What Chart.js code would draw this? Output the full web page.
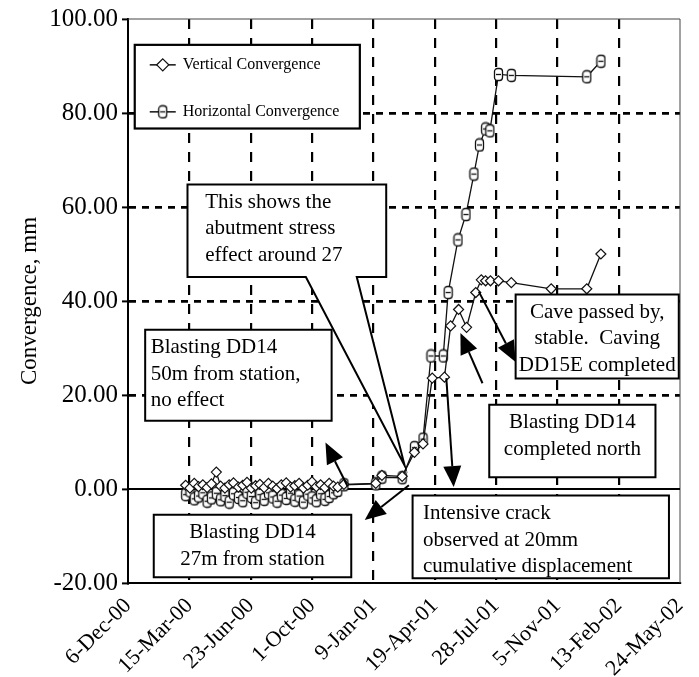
<!DOCTYPE html>
<html>
<head>
<meta charset="utf-8">
<script src="https://cdn.jsdelivr.net/npm/chart.js@4.4.0/dist/chart.umd.min.js"></script>
<style>
  html, body { margin: 0; padding: 0; background: #fff; }
</style>
</head>
<body>
<canvas id="convergence-chart" width="699" height="677"></canvas>
<script>
// axis labels, one every 100 days
const axisDates = ['6-Dec-00', '15-Mar-00', '23-Jun-00', '1-Oct-00', '9-Jan-01',
  '19-Apr-01', '28-Jul-01', '5-Nov-01', '13-Feb-02', '24-May-02'];

// reading dates, counted in days after the first axis date
const earlyDays = [94, 101, 108, 115, 122, 129, 136, 144, 151, 158, 165, 172, 180, 187, 194, 201, 208, 215,
  222, 229, 236, 243, 250, 258, 265, 272, 279, 286, 293, 300, 307, 314, 321, 328, 335, 342];

const vertDays = earlyDays.concat([352, 404, 414, 447, 467, 481, 496, 516, 526, 539, 552, 567, 576, 583,
  591, 604, 625, 690, 748, 771]);
const vertMm = [0.8, 0.2, 1.2, 0.5, 0.9, 0.3, 1.1, 3.6, 0.6, 0.2, 0.9, 1.3, 0.4, 0.8, 1.4, 0.2, 0.7, 1.0,
  0.3, 1.2, 0.6, 0.1, 0.9, 1.3, 0.4, 0.7, 1.2, 0.2, 0.8, 1.5, 0.5, 0.9, 0.3, 1.2, 0.6, 0.4,
  1.0, 1.2, 2.9, 2.7, 7.8, 9.6, 23.6, 23.8, 34.7, 38.2, 34.4, 41.8, 44.5, 44.3, 44.3, 44.3, 43.9, 42.6, 42.6, 50.0];

const horizDays = earlyDays.concat([352, 404, 414, 447, 467, 481, 494, 514, 522, 538, 551, 564, 573, 583,
  590, 604, 625, 748, 771]);
const horizMm = [-1.2, -0.4, -2.1, -1.5, -0.8, -2.6, -1.9, -0.9, -2.3, -1.4, -2.8, -1.0, -1.8, -2.5, -0.7, -1.6, -2.9, -1.2,
  -2.2, -0.8, -1.7, -2.6, -1.3, -2.0, -0.9, -2.4, -1.5, -2.8, -1.1, -1.9, -2.5, -1.0, -2.2, -1.6, -0.8, -0.3,
  0.9, 1.1, 2.5, 2.4, 8.8, 10.6, 28.3, 28.3, 41.8, 53.0, 58.4, 67.0, 73.2, 76.6, 76.2, 88.2, 88.0, 87.7, 91.0];

// text boxes (days / mm)
const notes = [
  { lines: ['This shows the', 'abutment stress', 'effect around 27'], from: 97, to: 421, top: 64.8, bottom: 45.1,
    textAt: 126, tail: [373, 290, 451, 5] },
  { lines: ['Blasting DD14', '50m from station,', 'no effect'], from: 28, to: 332, top: 33.9, bottom: 14.5, textAt: 37 },
  { lines: ['Blasting DD14', '27m from station'], from: 42, to: 364, top: -5.5, bottom: -18.8 },
  { lines: ['Intensive crack', 'observed at 20mm', 'cumulative displacement'], from: 464, to: 882, top: -1.4, bottom: -19.0,
    textAt: 481 },
  { lines: ['Blasting DD14', 'completed north'], from: 589, to: 860, top: 17.9, bottom: 2.5 },
  { lines: ['Cave passed by,', 'stable.  Caving', 'DD15E completed'], from: 632, to: 898, top: 41.4, bottom: 23.5 }
];

// arrows: start day, start mm, tip day, tip mm
const arrows = [
  [358, 0.6, 322, 9.9],
  [458, 0.8, 386, -6.6],
  [519, 23.6, 531, 0.4],
  [578, 22.5, 542, 33.2],
  [572, 42.0, 632, 27.0]
];

const serif = '"Liberation Serif", "Times New Roman", serif';
Chart.defaults.font.family = serif;
Chart.defaults.color = '#000';

// tall rounded marker for the horizontal readings
function makeBoxMarker() {
  const c = document.createElement('canvas');
  c.width = 11; c.height = 15;
  const g = c.getContext('2d');
  g.fillStyle = '#fff';
  g.strokeStyle = '#111';
  g.lineWidth = 1.3;
  g.beginPath();
  g.roundRect(1.5, 1.5, 8, 12, 3);
  g.fill();
  g.stroke();
  g.beginPath();
  g.moveTo(3, 7.5); g.lineTo(8, 7.5);
  g.stroke();
  return c;
}
const boxMarker = makeBoxMarker();

function drawArrow(ctx, x1, y1, x2, y2) {
  const ang = Math.atan2(y2 - y1, x2 - x1);
  const len = 21, half = 9;
  const bx = x2 - len * Math.cos(ang), by = y2 - len * Math.sin(ang);
  ctx.beginPath();
  ctx.moveTo(x1, y1);
  ctx.lineTo(bx, by);
  ctx.stroke();
  ctx.beginPath();
  ctx.moveTo(x2, y2);
  ctx.lineTo(bx + half * Math.sin(ang), by - half * Math.cos(ang));
  ctx.lineTo(bx - half * Math.sin(ang), by + half * Math.cos(ang));
  ctx.closePath();
  ctx.fill();
}

function drawDiamond(ctx, cx, cy, r) {
  ctx.beginPath();
  ctx.moveTo(cx, cy - r); ctx.lineTo(cx + r, cy); ctx.lineTo(cx, cy + r); ctx.lineTo(cx - r, cy);
  ctx.closePath();
  ctx.fillStyle = '#fff';
  ctx.fill();
  ctx.stroke();
}

const notesPlugin = {
  id: 'notes',
  beforeDatasetsDraw(chart) {
    const { ctx, chartArea: a, scales: { y } } = chart;
    ctx.save();
    ctx.strokeStyle = '#444';
    ctx.lineWidth = 1;
    ctx.beginPath();
    ctx.moveTo(a.left, a.top); ctx.lineTo(a.right, a.top); ctx.lineTo(a.right, a.bottom);
    ctx.stroke();
    const y0 = y.getPixelForValue(0);
    ctx.strokeStyle = '#000';
    ctx.lineWidth = 1.8;
    ctx.beginPath();
    ctx.moveTo(a.left, y0); ctx.lineTo(a.right, y0);
    ctx.stroke();
    ctx.restore();
  },
  afterDatasetsDraw(chart) {
    const { ctx, scales: { x, y } } = chart;
    ctx.save();
    ctx.lineJoin = 'miter';

    notes.forEach(n => {
      const l = x.getPixelForValue(n.from), r = x.getPixelForValue(n.to);
      const t = y.getPixelForValue(n.top), b = y.getPixelForValue(n.bottom);
      ctx.beginPath();
      ctx.moveTo(l, t); ctx.lineTo(r, t); ctx.lineTo(r, b);
      if (n.tail) {
        ctx.lineTo(x.getPixelForValue(n.tail[0]), b);
        ctx.lineTo(x.getPixelForValue(n.tail[2]), y.getPixelForValue(n.tail[3]));
        ctx.lineTo(x.getPixelForValue(n.tail[1]), b);
      }
      ctx.lineTo(l, b);
      ctx.closePath();
      ctx.fillStyle = '#fff';
      ctx.fill();
      ctx.strokeStyle = '#000';
      ctx.lineWidth = 2;
      ctx.stroke();

      ctx.fillStyle = '#000';
      ctx.font = '21px ' + serif;
      ctx.textBaseline = 'middle';
      let tx;
      if (n.textAt !== undefined) {
        ctx.textAlign = 'left';
        tx = x.getPixelForValue(n.textAt);
      } else {
        ctx.textAlign = 'center';
        tx = (l + r) / 2;
      }
      n.lines.forEach((line, i) => ctx.fillText(line, tx, t + 18 + i * 26.5));
    });

    ctx.strokeStyle = '#000';
    ctx.fillStyle = '#000';
    ctx.lineWidth = 2;
    arrows.forEach(([d1, v1, d2, v2]) => {
      drawArrow(ctx, x.getPixelForValue(d1), y.getPixelForValue(v1), x.getPixelForValue(d2), y.getPixelForValue(v2));
    });

    // legend box
    const ll = x.getPixelForValue(11), lr = x.getPixelForValue(378);
    const lt = y.getPixelForValue(94.5), lb = y.getPixelForValue(76.7);
    ctx.fillStyle = '#fff';
    ctx.fillRect(ll, lt, lr - ll, lb - lt);
    ctx.lineWidth = 2.2;
    ctx.strokeRect(ll, lt, lr - ll, lb - lt);
    ctx.font = '16px ' + serif;
    ctx.textAlign = 'left';
    ctx.textBaseline = 'middle';
    chart.data.datasets.forEach((ds, i) => {
      const ry = lt + 20 + i * 47;
      ctx.strokeStyle = '#111';
      ctx.lineWidth = 1.5;
      ctx.beginPath();
      ctx.moveTo(ll + 15, ry); ctx.lineTo(ll + 41, ry);
      ctx.stroke();
      if (i === 0) {
        ctx.lineWidth = 1.3;
        drawDiamond(ctx, ll + 28, ry, 6);
      } else {
        ctx.drawImage(boxMarker, ll + 28 - 5.5, ry - 7.5);
      }
      ctx.fillStyle = '#000';
      ctx.fillText(ds.label, ll + 48, ry);
    });
    ctx.restore();
  }
};

const ctx = document.getElementById('convergence-chart').getContext('2d');
new Chart(ctx, {
  type: 'line',
  data: {
    datasets: [
      {
        label: 'Vertical Convergence',
        data: vertDays.map((d, i) => ({ x: d, y: vertMm[i] })),
        borderColor: '#111',
        borderWidth: 1.3,
        pointStyle: 'rectRot',
        pointRadius: 5,
        pointBorderWidth: 1.2,
        pointBackgroundColor: '#fff',
        pointBorderColor: '#111',
        tension: 0
      },
      {
        label: 'Horizontal Convergence',
        data: horizDays.map((d, i) => ({ x: d, y: horizMm[i] })),
        borderColor: '#111',
        borderWidth: 1.3,
        pointStyle: boxMarker,
        pointRadius: 5,
        tension: 0
      }
    ]
  },
  options: {
    responsive: false,
    animation: false,
    layout: { padding: { left: 0, top: 17, right: 19, bottom: 0 } },
    plugins: {
      legend: { display: false },
      tooltip: { enabled: false }
    },
    scales: {
      x: {
        type: 'linear',
        min: 0,
        max: 900,
        afterFit(scale) {
          scale.height = 94;
          scale.paddingLeft = 0;
          scale.paddingRight = 0;
        },
        border: { display: true, color: '#000', width: 2, dash: [10, 9] },
        grid: {
          color: c => (c.tick && (c.tick.value === 0 || c.tick.value === 900)) ? 'rgba(0,0,0,0)' : '#000',
          lineWidth: 2.2,
          drawTicks: false
        },
        ticks: {
          stepSize: 100,
          autoSkip: false,
          minRotation: 45,
          maxRotation: 45,
          padding: 10,
          font: { size: 22 },
          callback: v => axisDates[Math.round(v / 100)]
        }
      },
      y: {
        min: -20,
        max: 100,
        afterFit(scale) { scale.width = 128; },
        border: { display: true, color: '#000', width: 2, dash: [7, 6] },
        grid: {
          color: c => (c.tick && [0, 100, -20].includes(c.tick.value)) ? 'rgba(0,0,0,0)' : '#000',
          lineWidth: 2.8,
          tickColor: '#000',
          tickWidth: 2,
          tickLength: 6
        },
        ticks: {
          stepSize: 20,
          padding: 4,
          font: { size: 25 },
          callback: v => v.toFixed(2)
        },
        title: {
          display: true,
          text: 'Convergence, mm',
          font: { size: 23 },
          padding: { top: 16, bottom: 4 }
        }
      }
    }
  },
  plugins: [notesPlugin]
});
</script>
</body>
</html>
